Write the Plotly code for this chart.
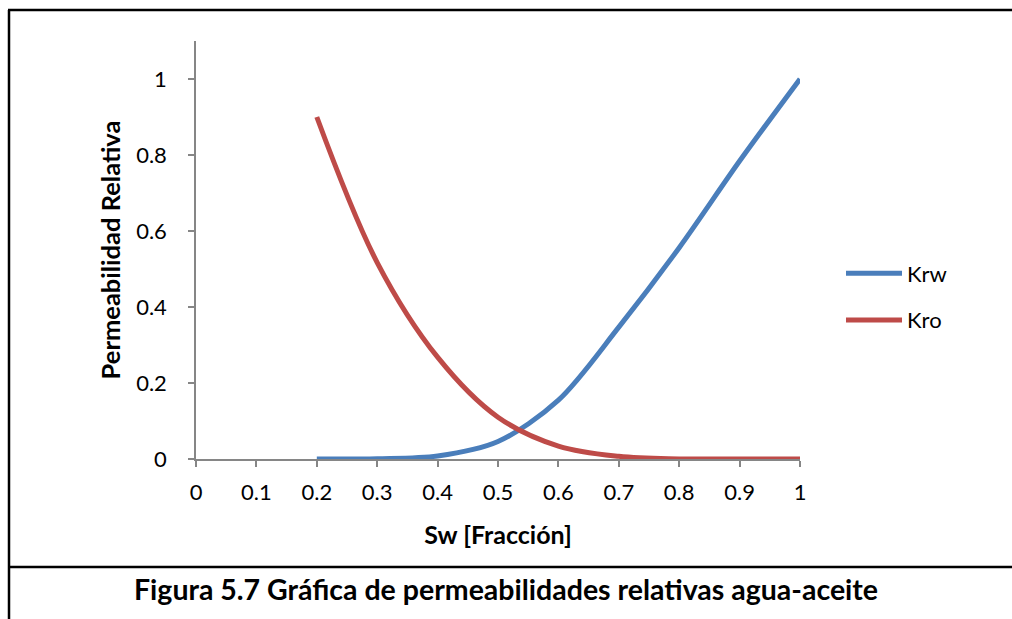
import plotly.graph_objects as go

sw = [0.2, 0.3, 0.4, 0.5, 0.6, 0.7, 0.8, 0.9, 1.0]
krw = [0.0, 0.0008, 0.008, 0.046, 0.155, 0.347, 0.556, 0.784, 1.0]
kro = [0.9, 0.517, 0.268, 0.11, 0.034, 0.007, 0.0003, 0.0, 0.0]

x_ticks = [0, 0.1, 0.2, 0.3, 0.4, 0.5, 0.6, 0.7, 0.8, 0.9, 1]
x_ticklabels = ["0", "0.1", "0.2", "0.3", "0.4", "0.5", "0.6", "0.7", "0.8", "0.9", "1"]
y_ticks = [0, 0.2, 0.4, 0.6, 0.8, 1]
y_ticklabels = ["0", "0.2", "0.4", "0.6", "0.8", "1"]

W, H = 1012, 619
L, R, T, B = 196, 800, 41, 459


def px(x):
    return (x - L) / (R - L)


def py(y):
    return (B - y) / (B - T)


FONT = "Lato"
AX = "#868686"

fig = go.Figure()
fig.add_trace(go.Scatter(x=sw, y=krw, name="Krw", mode="lines", legendgroup="a",
                         line=dict(color="#4A7EBB", width=5, shape="spline", smoothing=0.9)))
fig.add_trace(go.Scatter(x=sw, y=kro, name="Kro", mode="lines", legendgroup="b",
                         line=dict(color="#BE4B48", width=5, shape="spline", smoothing=1.0)))

frame = dict(color="black", width=2.5)

fig.update_layout(
    width=W, height=H,
    margin=dict(l=L, r=W - R, t=T, b=H - B),
    plot_bgcolor="white", paper_bgcolor="white",
    font=dict(family=FONT, size=23, color="black"),
    showlegend=True,
    legend=dict(x=px(841), y=py(297), xanchor="left", yanchor="middle",
                font=dict(family=FONT, size=22, color="black"),
                tracegroupgap=15, itemwidth=56, bgcolor="rgba(0,0,0,0)"),
    xaxis=dict(range=[0, 1], tickvals=x_ticks, ticktext=x_ticklabels,
               showgrid=False, zeroline=False, showline=True, linecolor=AX, linewidth=1.5,
               ticks="outside", tickcolor=AX, ticklen=6, tickwidth=1.5,
               tickfont=dict(family=FONT, size=22), ticklabelstandoff=7,
               title=dict(text="<b>Sw [Fracción]</b>", font=dict(family=FONT, size=25), standoff=22)),
    yaxis=dict(range=[0, 1.1], tickvals=y_ticks, ticktext=y_ticklabels,
               showgrid=False, zeroline=False, showline=True, linecolor=AX, linewidth=1.5,
               ticks="outside", tickcolor=AX, ticklen=6, tickwidth=1.5,
               tickfont=dict(family=FONT, size=22), ticklabelstandoff=17,
               title=dict(text="<b>Permeabilidad Relativa</b>", font=dict(family=FONT, size=25.5), standoff=8)),
    shapes=[
        dict(type="line", xref="paper", yref="paper",
             x0=px(9), x1=px(9), y0=py(640), y1=py(10), line=frame),
        dict(type="line", xref="paper", yref="paper",
             x0=px(8), x1=px(1030), y0=py(10), y1=py(10), line=frame),
        dict(type="line", xref="paper", yref="paper",
             x0=px(8), x1=px(1030), y0=py(567), y1=py(567), line=frame),
    ],
    annotations=[
        dict(text="<b>Figura 5.7 Gráfica de permeabilidades relativas agua-aceite</b>",
             xref="paper", yref="paper", x=px(506), y=py(589), xanchor="center", yanchor="middle",
             showarrow=False, font=dict(family=FONT, size=28.5, color="black")),
    ],
)

fig.write_html("out.html", config={"displayModeBar": False},
               post_script="document.body.style.margin='0';document.body.style.overflow='hidden';"
                           "document.documentElement.style.overflow='hidden';")
